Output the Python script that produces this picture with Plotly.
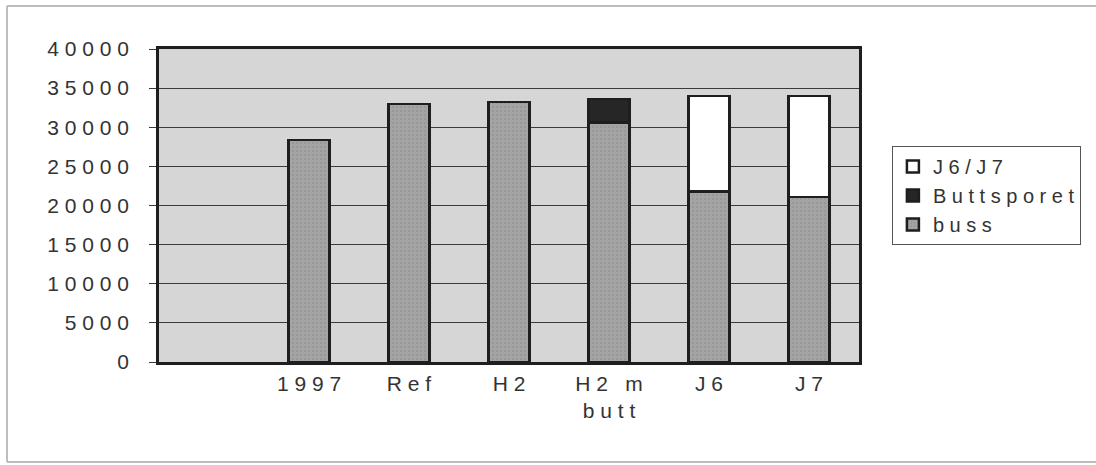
import plotly.graph_objects as go

# ---- data ----
positions = [1, 2, 3, 4, 5, 6]
category_labels = ["1 9 9 7", "R e f", "H 2", "H 2   m<br>b u t t", "J 6", "J 7"]
buss = [28400, 33000, 33200, 30600, 21800, 21100]
buttsporet = [0, 0, 0, 3000, 0, 0]
j6j7 = [0, 0, 0, 0, 12200, 12900]
y_tickvals = [0, 5000, 10000, 15000, 20000, 25000, 30000, 35000, 40000]
y_ticktext = ["0", "5 0 0 0", "1 0 0 0 0", "1 5 0 0 0", "2 0 0 0 0",
              "2 5 0 0 0", "3 0 0 0 0", "3 5 0 0 0", "4 0 0 0 0"]
series_names = ["b u s s", "B u t t s p o r e t", "J 6 / J 7"]

FONT = "Liberation Sans, Arial, sans-serif"
TXT = "#333333"
OUT = "#1e1e1e"

fig = go.Figure()
fig.add_trace(go.Bar(x=positions, y=buss, name=series_names[0],
                     marker=dict(color="#a4a4a4", line=dict(color=OUT, width=2.5),
                                 pattern=dict(shape=".", fgcolor="#8c8c8c", size=4, solidity=0.3))))
fig.add_trace(go.Bar(x=positions, y=buttsporet, name=series_names[1],
                     marker=dict(color="#262626", line=dict(color=OUT, width=2.5))))
fig.add_trace(go.Bar(x=positions, y=j6j7, name=series_names[2],
                     marker=dict(color="#ffffff", line=dict(color=OUT, width=2.5))))

fig.update_layout(
    barmode="stack",
    bargap=0.59,
    width=1096, height=465,
    margin=dict(l=159, r=237, t=49, b=103),
    paper_bgcolor="white",
    plot_bgcolor="#d6d6d6",
    font=dict(family=FONT, size=21, color=TXT),
    showlegend=True,
    legend=dict(x=1.047, y=0.69, xanchor="left", yanchor="top",
                traceorder="reversed",
                bordercolor="#555555", borderwidth=1, bgcolor="white",
                font=dict(family=FONT, size=20, color=TXT),
                itemwidth=30, tracegroupgap=0),
    xaxis=dict(range=[-0.5, 6.5], tickmode="array", tickvals=positions,
               ticktext=category_labels, showgrid=False, zeroline=False,
               showline=True, linecolor=OUT, linewidth=2.5, mirror=True,
               ticks="", ticklabelstandoff=1, tickfont=dict(size=21)),
    yaxis=dict(range=[0, 40000], tickmode="array", tickvals=y_tickvals,
               ticktext=y_ticktext, showgrid=True, gridcolor="#3a3a3a", gridwidth=1,
               zeroline=False, showline=True, linecolor=OUT, linewidth=2.5, mirror=True,
               ticks="outside", ticklen=7, tickcolor="#3a3a3a",
               ticklabelstandoff=16, tickfont=dict(size=21)),
)

# light outer frame (top, left, bottom)
fx0, fx1 = -152 / 700, 2.0
fy0, fy1 = -100 / 313, (362 - 6) / 313
for (a, b, c, d) in [(fx0, fy1, fx1, fy1), (fx0, fy0, fx0, fy1), (fx0, fy0, fx1, fy0)]:
    fig.add_shape(type="line", xref="paper", yref="paper", x0=a, y0=b, x1=c, y1=d,
                  line=dict(color="#bdbdbd", width=2), layer="below")

fig.write_html("out.html")
